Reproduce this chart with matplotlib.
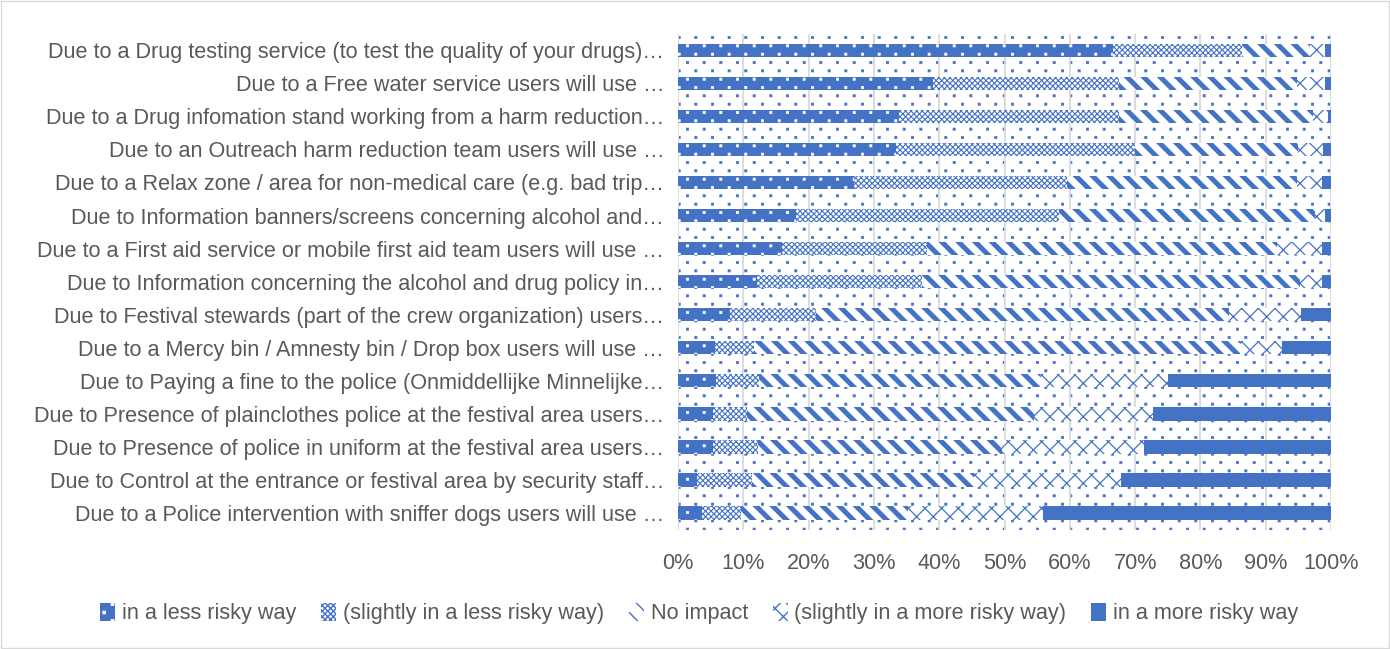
import numpy as np
import matplotlib.pyplot as plt
from matplotlib import hatch as mhatch
from matplotlib.path import Path
from matplotlib.patches import Rectangle
from matplotlib.ticker import PercentFormatter

BLUE = '#4472C4'
TEXT = '#595959'

labels = [
    "Due to a Drug testing service (to test the quality of your drugs)…",
    "Due to a Free water service users will use …",
    "Due to a Drug infomation stand working from a harm reduction…",
    "Due to an Outreach harm reduction team users will use …",
    "Due to a Relax zone / area for non-medical care (e.g. bad trip…",
    "Due to Information banners/screens concerning alcohol and…",
    "Due to a First aid service or mobile first aid team users will use …",
    "Due to Information concerning the alcohol and drug policy in…",
    "Due to Festival stewards (part of the crew organization) users…",
    "Due to a Mercy bin / Amnesty bin / Drop box users will use …",
    "Due to Paying a fine to the police (Onmiddellijke Minnelijke…",
    "Due to Presence of plainclothes police at the festival area users…",
    "Due to Presence of police in uniform at the festival area users…",
    "Due to Control at the entrance or festival area by security staff…",
    "Due to a Police intervention with sniffer dogs users will use …",
]

series_names = [
    "in a less risky way",
    "(slightly in a less risky way)",
    "No impact",
    "(slightly in a more risky way)",
    "in a more risky way",
]

# shares per answer, in %, same order as labels
less_risky = [66.6, 39.0, 33.9, 33.4, 27.0, 18.1, 15.9, 12.1, 7.9, 5.6, 5.8, 5.3, 5.3, 2.9, 3.7]
slightly_less = [19.7, 28.5, 33.6, 36.6, 32.6, 40.2, 22.3, 25.3, 13.2, 6.0, 6.6, 5.2, 6.9, 8.5, 6.0]
no_impact = [10.5, 27.3, 29.7, 25.0, 35.2, 39.2, 53.5, 57.9, 63.2, 74.5, 43.1, 44.0, 37.4, 33.9, 25.5]
slightly_more = [2.3, 4.3, 2.4, 3.8, 3.8, 1.6, 6.9, 3.3, 11.1, 6.4, 19.5, 18.2, 21.7, 22.6, 20.7]
more_risky = [0.9, 0.9, 0.4, 1.2, 1.4, 0.9, 1.4, 1.4, 4.6, 7.5, 25.0, 27.3, 28.7, 32.1, 44.1]

series = [less_risky, slightly_less, no_impact, slightly_more, more_risky]


class SquareDots(mhatch.HatchPatternBase):
    """Office style '5%' dot fill: tiny squares, rows half as far apart as columns."""
    filled = True
    cols = 6
    side = 0.022

    def __init__(self, hatch, density):
        self.active = ':' in hatch
        self.rows = 2 * self.cols
        self.num_vertices = self.rows * self.cols * 5 if self.active else 0

    def set_vertices_and_codes(self, vertices, codes):
        step = 1.0 / self.cols
        h = self.side / 2
        square = np.array([[-h, -h], [h, -h], [h, h], [-h, h], [-h, -h]])
        k = 0
        for r in range(self.rows):
            yc = (r + 0.5) / self.rows
            shift = 0.5 * step if r % 2 else 0.0
            for c in range(self.cols):
                xc = c * step + shift + 0.25 * step
                vertices[k:k + 5] = square + (xc, yc)
                codes[k:k + 5] = [Path.MOVETO, Path.LINETO, Path.LINETO,
                                  Path.LINETO, Path.CLOSEPOLY]
                k += 5


mhatch._hatch_types.append(SquareDots)

# face, hatch colour, hatch, hatch linewidth
styles = [
    (BLUE, 'white', ':', 0.5),
    ('white', BLUE, 'xxxxxx', 0.8),
    ('white', BLUE, '\\\\', 3.6),
    ('white', BLUE, 'xx', 0.9),
    (BLUE, BLUE, '', 1.0),
]

plt.rcParams['font.family'] = ['Liberation Sans', 'DejaVu Sans']

fig = plt.figure(figsize=(13.9, 6.49), dpi=100)
ax = fig.add_axes([0.4878, 0.184, 0.4698, 0.764])

# dotted plot area background
with plt.rc_context({'hatch.linewidth': 0.5}):
    ax.add_patch(Rectangle((0, 0), 1, 1, transform=ax.transAxes, facecolor='white',
                           edgecolor=BLUE, hatch=':', linewidth=0, zorder=0))

y = list(range(len(labels)))
left = [0.0] * len(labels)
handles = []
for name, vals, (fc, hc, hatch, hlw) in zip(series_names, series, styles):
    with plt.rc_context({'hatch.linewidth': hlw}):
        bars = ax.barh(y, vals, left=left, height=0.4, color=fc, edgecolor=hc,
                       hatch=hatch, linewidth=0, label=name, zorder=3)
    handles.append(bars)
    left = [l + v for l, v in zip(left, vals)]

ax.set_xlim(0, 100)
ax.set_ylim(len(labels) - 0.5, -0.5)
ax.set_yticks(y)
ax.set_yticklabels(labels)
ax.set_xticks(range(0, 101, 10))
ax.xaxis.set_major_formatter(PercentFormatter(decimals=0))
ax.tick_params(axis='both', length=0, labelsize=15.6, colors=TEXT)
ax.tick_params(axis='y', pad=10)
ax.tick_params(axis='x', pad=17)
ax.grid(axis='x', color='#D9D9D9', linewidth=1.3, zorder=1)
ax.set_axisbelow(True)
for s in ax.spines.values():
    s.set_visible(False)

fig.legend(handles=handles, labels=series_names, loc='center', bbox_to_anchor=(0.503, 0.055),
           ncol=5, frameon=False, fontsize=15.6, labelcolor=TEXT, handlelength=0.7,
           handleheight=0.9, handletextpad=0.3, columnspacing=1.15)

fig.add_artist(Rectangle((0.001, 0.001), 0.998, 0.997, transform=fig.transFigure,
                         fill=False, edgecolor='#D9D9D9', linewidth=1))

fig.savefig('out.png', dpi=100)
